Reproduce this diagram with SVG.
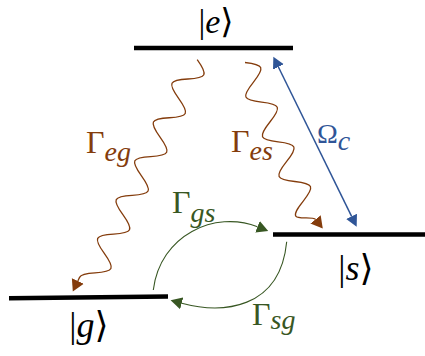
<svg xmlns="http://www.w3.org/2000/svg" width="425" height="356" viewBox="0 0 425 356">
<style>
  .level{stroke:#000;stroke-width:4.6;fill:none}
  .ket{font-family:"Liberation Serif","DejaVu Serif",serif;font-size:36px;fill:#000}
  .it{font-style:italic}
  .lbl{font-family:"Liberation Serif","DejaVu Serif",serif;font-size:32px}
  .sub{font-size:28px;font-style:italic}
  .brown{fill:#843C0C}
  .green{fill:#385723}
  .blue{fill:#2F5597}
  .wave{fill:none;stroke:#843C0C;stroke-width:1.3;marker-end:url(#ahBrown)}
  .arc{fill:none;stroke:#385723;stroke-width:1.1;marker-end:url(#ahGreen)}
  .rabi{fill:none;stroke:#2F5597;stroke-width:1.5;marker-start:url(#ahBlue);marker-end:url(#ahBlue)}
</style>
<defs>
  <marker id="ahBrown" viewBox="0 -7 12 14" refX="0" refY="0" markerWidth="12" markerHeight="14" markerUnits="userSpaceOnUse" orient="auto">
    <path d="M0,-6.6 L11.6,0 L0,6.6 Z" fill="#843C0C"/>
  </marker>
  <marker id="ahGreen" viewBox="0 -7 12 14" refX="0" refY="0" markerWidth="12" markerHeight="14" markerUnits="userSpaceOnUse" orient="auto">
    <path d="M0,-6.2 L11.5,0 L0,6.2 Z" fill="#385723"/>
  </marker>
  <marker id="ahBlue" viewBox="0 -7 12 14" refX="0" refY="0" markerWidth="12" markerHeight="14" markerUnits="userSpaceOnUse" orient="auto-start-reverse">
    <path d="M0,-6 L11.5,0 L0,6 Z" fill="#2F5597"/>
  </marker>
</defs>
<rect width="425" height="356" fill="#fff"/>

<g id="level-e">
  <line class="level" x1="134" y1="48" x2="293" y2="48"/>
  <text class="ket" x="216" y="33" text-anchor="middle" style="font-size:34px">|<tspan class="it">e</tspan>⟩</text>
</g>
<g id="level-s">
  <line class="level" x1="273" y1="234.5" x2="425" y2="234.5"/>
  <text class="ket" x="356" y="280" text-anchor="middle">|<tspan class="it">s</tspan>⟩</text>
</g>
<g id="level-g">
  <line class="level" x1="9" y1="298.3" x2="168" y2="296.5"/>
  <text class="ket" x="89" y="337" text-anchor="middle">|<tspan class="it">g</tspan>⟩</text>
</g>

<g id="connectors">
  <path id="decay-eg" class="wave" transform="translate(197.2,59.6) rotate(115.6)"
    d="M0,0 c9.12,-16.67 12.38,-16.67 21.5,0 s12.38,16.67 21.5,0 s12.38,-16.67 21.5,0 s12.38,16.67 21.5,0 s12.38,-16.67 21.5,0 s12.38,16.67 21.5,0 s12.38,-16.67 21.5,0 s12.38,16.67 21.5,0 s12.38,-16.67 21.5,0 s12.38,16.67 21.5,0 s12.38,-16.67 21.5,0 c3.51,6.4 6.86,12 10.75,12 l4,0"/>
  <path id="decay-es" class="wave" transform="translate(245,62.5) rotate(67.3)"
    d="M0,0 c9.12,-16.67 12.38,-16.67 21.5,0 s12.38,16.67 21.5,0 s12.38,-16.67 21.5,0 s12.38,16.67 21.5,0 s12.38,-16.67 21.5,0 s12.38,16.67 21.5,0 s12.38,-16.67 21.5,0 c3.51,6.4 6.86,12.5 10.75,12.5 c4,0 6.91,-15.9 10.75,-17"/>
  <path id="rabi-es" class="rabi" d="M278.4,67 L351.6,216.4"/>
  <path id="rate-gs" class="arc" d="M153.3,290 C160,235 215,210 257.5,226.7"/>
  <path id="rate-sg" class="arc" d="M286.7,241.7 C280,310 222,314 181.7,303.3"/>
</g>

<g id="labels">
  <text class="lbl brown" x="86" y="153">Γ<tspan class="sub" dy="8">eg</tspan></text>
  <text class="lbl brown" x="231" y="152">Γ<tspan class="sub" dy="8">es</tspan></text>
  <text class="lbl blue" x="317" y="143" style="font-size:28px">Ω<tspan class="it" dy="7" style="font-size:28px">c</tspan></text>
  <text class="lbl green" x="172" y="213">Γ<tspan class="sub" dy="9">gs</tspan></text>
  <text class="lbl green" x="252" y="325">Γ<tspan class="sub" dy="4">sg</tspan></text>
</g>
</svg>
